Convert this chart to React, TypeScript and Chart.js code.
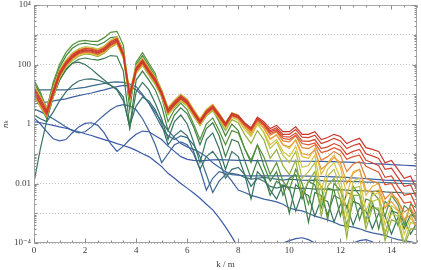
import React, { useEffect, useRef } from 'react';
import { Chart, registerables } from 'chart.js';

Chart.register(...registerables);

// k / m sample positions
const kValues = [
  0, 0.25, 0.5, 0.75, 1, 1.25, 1.5, 1.75, 2, 2.25, 2.5, 2.75, 3, 3.25, 3.5, 3.75,
  4, 4.25, 4.5, 4.75, 5, 5.25, 5.5, 5.75, 6, 6.25, 6.5, 6.75, 7, 7.25, 7.5, 7.75,
  8, 8.25, 8.5, 8.75, 9, 9.25, 9.5, 9.75, 10, 10.25, 10.5, 10.75, 11, 11.25, 11.5, 11.75,
  12, 12.25, 12.5, 12.75, 13, 13.25, 13.5, 13.75, 14, 14.25, 14.5, 14.75, 15,
];

const xTicks = [0, 2, 4, 6, 8, 10, 12, 14];
const xTickLabels = ['0', '2', '4', '6', '8', '10', '12', '14'];
const yTicks = [1e-4, 1e-3, 1e-2, 1e-1, 1, 10, 100, 1000, 1e4];
const yTickLabels = ['10\u207B\u2074', '', '0.01', '', '1', '', '100', '', '10\u2074'];

// ---- series (n_k), latest (red) first ----
const R1 = [
  14, 6, 2.5, 12, 50, 110, 190, 270, 310, 300, 260, 330, 520, 680, 220, 9,
  70, 130, 60, 30, 11, 2.8, 5, 8, 5.5, 2.5, 1.2, 2.5, 3.8, 2.0, 1.0, 2.2,
  1.9, 1.1, 0.75, 1.7, 1.2, 0.7, 0.9, 0.55, 0.55, 0.8, 0.45, 0.45, 0.55, 0.3, 0.35, 0.45,
  0.38, 0.22, 0.28, 0.33, 0.16, 0.14, 0.12, 0.05, 0.06, 0.03, 0.015, 0.018, 0.006,
];
const R2 = [
  12, 5, 2.2, 10, 45, 100, 175, 250, 290, 280, 245, 300, 470, 620, 200, 8,
  64, 118, 55, 27, 10, 2.5, 4.5, 7.3, 5, 2.3, 1.1, 2.3, 3.5, 1.8, 0.9, 2.0,
  1.7, 1.0, 0.68, 1.5, 1.05, 0.6, 0.75, 0.45, 0.45, 0.65, 0.36, 0.35, 0.42, 0.22, 0.26, 0.33,
  0.27, 0.15, 0.19, 0.22, 0.1, 0.085, 0.07, 0.03, 0.033, 0.016, 0.008, 0.009, 0.003,
];
const R3 = [
  16, 7, 2.8, 13, 55, 120, 210, 290, 340, 330, 285, 360, 570, 740, 240, 10,
  76, 142, 66, 33, 12, 3.1, 5.5, 8.8, 6, 2.7, 1.3, 2.7, 4.1, 2.1, 1.05, 2.3,
  1.9, 1.05, 0.7, 1.55, 1.0, 0.55, 0.65, 0.38, 0.36, 0.5, 0.27, 0.26, 0.3, 0.15, 0.17, 0.22,
  0.18, 0.095, 0.12, 0.14, 0.06, 0.05, 0.04, 0.016, 0.018, 0.008, 0.004, 0.0045, 0.0015,
];
const R4 = [
  11, 4.6, 2.0, 9.5, 42, 95, 165, 235, 270, 260, 225, 285, 440, 580, 190, 7.5,
  60, 112, 52, 26, 9.5, 2.4, 4.3, 7, 4.8, 2.2, 1.05, 2.2, 3.3, 1.7, 0.85, 1.9,
  1.6, 0.9, 0.6, 1.35, 0.9, 0.48, 0.58, 0.33, 0.3, 0.42, 0.22, 0.2, 0.23, 0.11, 0.125, 0.16,
  0.13, 0.065, 0.08, 0.09, 0.038, 0.03, 0.024, 0.009, 0.01, 0.0045, 0.0022, 0.0024, 0.0008,
];
const O1 = [
  17, 7.5, 3.0, 14, 58, 125, 220, 300, 350, 340, 295, 370, 590, 760, 250, 10.5,
  80, 148, 68, 34, 12.5, 3.2, 5.7, 9, 6.2, 2.8, 1.35, 2.8, 4.2, 2.2, 1.05, 2.3,
  1.9, 1.0, 0.62, 1.45, 0.9, 0.42, 0.55, 0.27, 0.25, 0.4, 0.16, 0.15, 0.2, 0.06, 0.08, 0.12,
  0.09, 0.025, 0.045, 0.055, 0.015, 0.012, 0.01, 0.003, 0.005, 0.0025, 0.0011, 0.0015, 0.0005,
];
const O2 = [
  10, 4.3, 1.9, 9, 40, 90, 155, 220, 255, 245, 210, 270, 420, 550, 180, 7,
  56, 105, 49, 24, 9, 2.3, 4.1, 6.6, 4.6, 2.1, 1.0, 2.1, 3.2, 1.6, 0.8, 1.8,
  1.5, 0.8, 0.5, 1.2, 0.72, 0.32, 0.42, 0.2, 0.17, 0.28, 0.1, 0.09, 0.13, 0.03, 0.045, 0.075,
  0.05, 0.01, 0.022, 0.03, 0.006, 0.005, 0.006, 0.0015, 0.0025, 0.0013, 0.0006, 0.0009, 0.0003,
];
const Y1 = [
  18, 8, 3.2, 15, 62, 130, 230, 320, 370, 355, 310, 390, 620, 800, 260, 11,
  84, 155, 72, 36, 13, 3.4, 6, 9.5, 6.5, 3, 1.45, 3, 4.5, 2.3, 1.1, 2.4,
  2.0, 0.95, 0.55, 1.3, 0.75, 0.3, 0.45, 0.2, 0.15, 0.3, 0.08, 0.07, 0.15, 0.02, 0.05, 0.09,
  0.035, 0.004, 0.025, 0.03, 0.004, 0.008, 0.01, 0.0015, 0.004, 0.003, 0.0006, 0.0015, 0.0006,
];
const Y2 = [
  9.5, 4, 1.8, 8.5, 37, 85, 145, 205, 240, 230, 200, 255, 400, 520, 170, 6.5,
  53, 98, 46, 23, 8.5, 2.1, 3.9, 6.2, 4.3, 1.9, 0.95, 2.0, 3.0, 1.5, 0.72, 1.65,
  1.35, 0.65, 0.38, 0.95, 0.55, 0.2, 0.3, 0.12, 0.08, 0.18, 0.035, 0.04, 0.09, 0.006, 0.03, 0.05,
  0.015, 0.0008, 0.012, 0.015, 0.0012, 0.004, 0.005, 0.0004, 0.0018, 0.0012, 0.0002, 0.0007, 0.0003,
];
const YG1 = [
  20, 8.5, 3.4, 16, 66, 140, 245, 340, 395, 380, 330, 420, 660, 860, 280, 12,
  90, 165, 77, 38, 14, 3.6, 6.3, 10, 6.8, 3.1, 1.5, 3.1, 4.6, 2.3, 1.05, 2.3,
  1.8, 0.8, 0.42, 1.1, 0.5, 0.15, 0.25, 0.09, 0.05, 0.12, 0.015, 0.025, 0.05, 0.002, 0.018, 0.03,
  0.007, 0.0003, 0.007, 0.008, 0.0005, 0.0025, 0.003, 0.0002, 0.001, 0.0008, 0.0001, 0.0005, 0.0004,
];
const YG2 = [
  9, 3.7, 1.7, 8, 35, 80, 135, 190, 225, 215, 185, 240, 375, 490, 160, 6,
  50, 92, 43, 21, 8, 2, 3.6, 5.8, 4, 1.8, 0.88, 1.85, 2.8, 1.35, 0.6, 1.4,
  1.1, 0.45, 0.22, 0.6, 0.3, 0.07, 0.14, 0.04, 0.02, 0.06, 0.004, 0.012, 0.025, 0.0008, 0.008, 0.015,
  0.003, 0.00015, 0.004, 0.004, 0.0003, 0.0015, 0.0015, 0.00012, 0.0006, 0.0005, 0.00008, 0.0003, 0.0003,
];
const G1 = [
  30, 12, 3, 25, 100, 250, 450, 600, 650, 600, 600, 800, 1200, 1300, 450, 6,
  120, 250, 110, 50, 8, 1.2, 3, 5, 3, 1, 0.3, 1, 1.6, 0.6, 0.2, 0.6,
  0.5, 0.15, 0.06, 0.2, 0.08, 0.02, 0.05, 0.012, 0.006, 0.03, 0.01, 0.002, 0.015, 0.008, 0.0006, 0.01,
  0.006, 0.0015, 0.008, 0.004, 0.0005, 0.005, 0.003, 0.0008, 0.004, 0.002, 0.0004, 0.002, 0.0015,
];
const G2 = [
  25, 10, 3.5, 20, 80, 190, 350, 480, 520, 480, 450, 560, 800, 850, 300, 3,
  100, 200, 90, 40, 14, 3, 6, 10, 6, 2.5, 1, 2.2, 3, 1.2, 0.4, 1.0,
  0.6, 0.15, 0.05, 0.2, 0.04, 0.012, 0.025, 0.004, 0.015, 0.02, 0.003, 0.012, 0.009, 0.0015, 0.007, 0.006,
  0.0008, 0.005, 0.004, 0.0006, 0.003, 0.0025, 0.0003, 0.0025, 0.0015, 0.0004, 0.0018, 0.0012, 0.0005,
];
const G3 = [
  8, 4, 1.5, 8, 30, 65, 110, 150, 165, 150, 140, 160, 200, 190, 60, 0.8,
  30, 60, 30, 14, 4, 0.6, 2, 3.5, 2.2, 0.8, 0.2, 0.7, 1.1, 0.4, 0.08, 0.3,
  0.25, 0.06, 0.015, 0.06, 0.02, 0.004, 0.012, 0.008, 0.001, 0.009, 0.006, 0.0005, 0.005, 0.004, 0.0009, 0.004,
  0.003, 0.0004, 0.0025, 0.002, 0.0006, 0.0018, 0.0012, 0.0002, 0.0012, 0.001, 0.0003, 0.0009, 0.0007,
];
const G4 = [
  0.011, 0.15, 1.3, 8, 30, 70, 110, 120, 100, 70, 45, 30, 20, 15, 8, 0.7,
  12, 25, 14, 5, 1.5, 0.3, 1.2, 2, 1.0, 0.25, 0.05, 0.3, 0.5, 0.15, 0.03, 0.12,
  0.08, 0.02, 0.003, 0.025, 0.015, 0.006, 0.003, 0.009, 0.007, 0.0012, 0.005, 0.004, 0.0008, 0.003, 0.0025, 0.0005,
  0.002, 0.0018, 0.0004, 0.0015, 0.0012, 0.0003, 0.001, 0.0008, 0.0002, 0.0007, 0.0006, 0.0002, 0.0005,
];
const T2 = [
  2, 1.5, 1.2, 2.5, 6, 12, 20, 28, 32, 33, 30, 25, 20, 14, 6, 0.9,
  4, 8, 6, 3, 1, 0.2, 0.4, 0.6, 0.4, 0.12, 0.03, 0.08, 0.12, 0.06, 0.015, 0.03,
  0.035, 0.02, 0.008, 0.015, 0.012, 0.008, 0.007, 0.008, 0.0075, 0.0068, 0.007, 0.0068, 0.0065, 0.0066, 0.0063, 0.006,
  0.0062, 0.006, 0.0058, 0.0058, 0.0056, 0.0054, 0.0055, 0.0052, 0.005, 0.005, 0.0048, 0.0047, 0.0045,
];
const T1 = [
  14, 14, 14, 14, 14, 14, 15, 16, 17, 19, 21, 23, 25, 26, 25, 22,
  18, 10, 5, 2, 0.8, 0.4, 0.3, 0.4, 0.35, 0.2, 0.08, 0.02, 0.005, 0.012, 0.02, 0.022,
  0.02, 0.016, 0.014, 0.015, 0.016, 0.015, 0.014, 0.013, 0.014, 0.0135, 0.013, 0.0128, 0.013, 0.0125, 0.012, 0.0122,
  0.012, 0.0118, 0.0115, 0.0115, 0.0112, 0.011, 0.011, 0.0108, 0.0105, 0.0102, 0.01, 0.0098, 0.0095,
];
const B4 = [
  3.2, 2.6, 2, 1.5, 1.1, 0.8, 0.6, 0.5, 0.55, 0.8, 1.3, 2.0, 3, 4, 4.5, 4,
  3, 1.5, 0.6, 0.2, 0.05, 0.1, 0.2, 0.25, 0.2, 0.1, 0.03, 0.006, 0.015, 0.025, 0.022, 0.012,
  0.006, 0.005, 0.004, 0.0035, 0.003, 0.0027, 0.0024, 0.002, 0.0015, 0.0013, 0.0012, 0.001, 0.0008, 0.0007, 0.0006, 0.0005,
  0.0004, 0.00037, 0.00034, 0.0003, 0.00025, 0.00022, 0.0002, 0.00018, 0.00015, 0.00013, 0.00012, 0.00011, 0.0001,
];
const B3 = [
  4.7, 5, 5.5, 6, 6.5, 7, 8, 9, 10, 11, 12.5, 14, 16, 18, 20, 19,
  14, 9, 5, 2.5, 1.2, 0.6, 0.35, 0.22, 0.17, 0.14, 0.11, 0.08, 0.05, 0.035, 0.025, 0.02,
  0.019, 0.018, 0.018, 0.018, 0.018, 0.018, 0.018, 0.018, 0.018, 0.018, 0.0178, 0.0176, 0.0175, 0.0172, 0.017, 0.0168,
  0.0165, 0.016, 0.0155, 0.015, 0.0145, 0.014, 0.0135, 0.013, 0.0128, 0.0125, 0.0122, 0.012, 0.012,
];
const B2 = [
  1.6, 1.0, 0.55, 0.32, 0.27, 0.3, 0.5, 0.8, 1.05, 1.1, 0.9, 0.5, 0.22, 0.12, 0.18, 0.3,
  0.45, 0.58, 0.55, 0.4, 0.3, 0.18, 0.12, 0.08, 0.065, 0.06, 0.058, 0.06, 0.062, 0.063, 0.062, 0.061,
  0.06, 0.06, 0.059, 0.059, 0.058, 0.058, 0.057, 0.057, 0.057, 0.056, 0.056, 0.056, 0.055, 0.055, 0.054, 0.054,
  0.052, 0.052, 0.051, 0.05, 0.048, 0.047, 0.046, 0.045, 0.043, 0.042, 0.041, 0.04, 0.039,
];
const B1 = [
  1.2, 1.1, 1.0, 0.9, 0.8, 0.72, 0.63, 0.55, 0.47, 0.41, 0.35, 0.3, 0.26, 0.22, 0.19, 0.16,
  0.13, 0.1, 0.08, 0.055, 0.037, 0.022, 0.015, 0.01, 0.007, 0.0048, 0.0032, 0.002, 0.0013, 0.0007, 0.00035, 0.00016,
  0.00007, 0.00004, 0.00003, 0.00003, 0.00004, 0.00006, 0.00008, 0.0001, 0.00012, 0.00014, 0.00015, 0.00013, 0.0001, 0.00007, 0.00005, 0.00004,
  0.00005, 0.00007, 0.0001, 0.00012, 0.00013, 0.00011, 0.00008, 0.00005, 0.00004, 0.00003, 0.00003, 0.00003, 0.00003,
];

const seriesNames = ['R1', 'R2', 'R3', 'R4', 'O1', 'O2', 'Y1', 'Y2', 'YG1', 'YG2', 'G1', 'G2', 'G3', 'G4', 'T2', 'T1', 'B4', 'B3', 'B2', 'B1'];
const seriesValues = [R1, R2, R3, R4, O1, O2, Y1, Y2, YG1, YG2, G1, G2, G3, G4, T2, T1, B4, B3, B2, B1];
const seriesColors = [
  '#c9372c', '#cf3f2d', '#d4472e', '#d9552f', '#e2803a', '#e69e3c', '#e3b93e', '#d6c440', '#b6c043', '#93af3f',
  '#55913a', '#44863f', '#3b7b4a', '#36735e', '#38706f', '#3b6a8a', '#3f649c', '#3e61a3', '#3d5ea7', '#3b5aa9',
];

const SERIF = "'Liberation Serif', 'DejaVu Serif', serif";

const framePlugin = {
  id: 'mmaFrame',
  afterDatasetsDraw(chart: any) {
    const { ctx, chartArea: a } = chart;
    const xs = chart.scales.x;
    const ys = chart.scales.y;
    const L = Math.round(a.left) + 0.5;
    const R = Math.round(a.right) - 0.5;
    const T = Math.round(a.top) + 0.5;
    const B = Math.round(a.bottom) - 0.5;
    ctx.save();
    ctx.strokeStyle = '#a6a6a6';
    ctx.lineWidth = 1;
    ctx.strokeRect(L, T, R - L, B - T);
    ctx.strokeStyle = '#8c8c8c';
    ctx.beginPath();
    for (let i = 0; i <= 30; i++) {
      const v = i * 0.5;
      const px = Math.round(xs.getPixelForValue(v)) + 0.5;
      const len = i % 4 === 0 ? 4 : 2;
      ctx.moveTo(px, B);
      ctx.lineTo(px, B - len);
      ctx.moveTo(px, T);
      ctx.lineTo(px, T + len);
    }
    for (let e = -4; e <= 4; e++) {
      for (let m = 1; m <= 9; m++) {
        if (e === 4 && m > 1) break;
        const v = m * Math.pow(10, e);
        const py = Math.round(ys.getPixelForValue(v)) + 0.5;
        const len = m === 1 ? (e % 2 === 0 ? 4 : 3) : 2;
        ctx.moveTo(L, py);
        ctx.lineTo(L + len, py);
        ctx.moveTo(R, py);
        ctx.lineTo(R - len, py);
      }
    }
    ctx.stroke();
    ctx.restore();
  },
};

export default function App() {
  const canvasRef = useRef<HTMLCanvasElement | null>(null);

  useEffect(() => {
    const canvas = canvasRef.current;
    if (!canvas) return;
    const datasets = seriesValues.map((vals, i) => ({
      label: seriesNames[i],
      data: vals.map((y, j) => ({ x: kValues[j], y })),
      borderColor: seriesColors[i],
      backgroundColor: seriesColors[i],
      borderWidth: 1.2,
      pointRadius: 0,
      tension: 0,
      fill: false,
    }));
    const chart = new Chart(canvas, {
      type: 'line',
      data: { datasets },
      options: {
        animation: false,
        responsive: true,
        maintainAspectRatio: false,
        layout: { padding: { top: 5, right: 4, left: 0, bottom: 0 } },
        plugins: { legend: { display: false }, tooltip: { enabled: false } },
        scales: {
          x: {
            type: 'linear',
            min: 0,
            max: 15,
            afterBuildTicks: (s: any) => {
              s.ticks = xTicks.map((v) => ({ value: v }));
            },
            afterFit: (s: any) => {
              s.height = 27;
              s.paddingLeft = 0;
              s.paddingRight = 0;
            },
            grid: { display: false, drawTicks: false },
            border: { display: false },
            ticks: {
              autoSkip: false,
              maxRotation: 0,
              padding: 2,
              color: '#3c3c3c',
              font: { family: SERIF, size: 9 },
              callback: (v: any) => {
                const idx = xTicks.indexOf(Number(v));
                return idx >= 0 ? xTickLabels[idx] : '';
              },
            },
            title: {
              display: true,
              text: 'k / m',
              color: '#3c3c3c',
              font: { family: SERIF, size: 9 },
              padding: { top: 0, bottom: 0 },
            },
          },
          y: {
            type: 'logarithmic',
            min: 1e-4,
            max: 1e4,
            afterBuildTicks: (s: any) => {
              s.ticks = yTicks.map((v) => ({ value: v }));
            },
            afterFit: (s: any) => {
              s.width = 34;
              s.paddingTop = 0;
              s.paddingBottom = 0;
            },
            grid: { color: '#c4c4c4', lineWidth: 1, drawTicks: false },
            border: { display: false, dash: [1, 2] },
            ticks: {
              autoSkip: false,
              padding: 3,
              color: '#3c3c3c',
              font: { family: SERIF, size: 9 },
              callback: (v: any, i: number) => yTickLabels[i] ?? '',
            },
            title: {
              display: true,
              text: 'n\u2096',
              color: '#3c3c3c',
              font: { family: SERIF, size: 9, style: 'italic' },
              padding: { top: 0, bottom: 0 },
            },
          },
        },
      },
      plugins: [framePlugin],
    } as any);
    return () => chart.destroy();
  }, []);

  return (
    <div style={{ position: 'fixed', left: 0, top: 0, width: 421, height: 270, background: '#fff' }}>
      <canvas ref={canvasRef} />
    </div>
  );
}
